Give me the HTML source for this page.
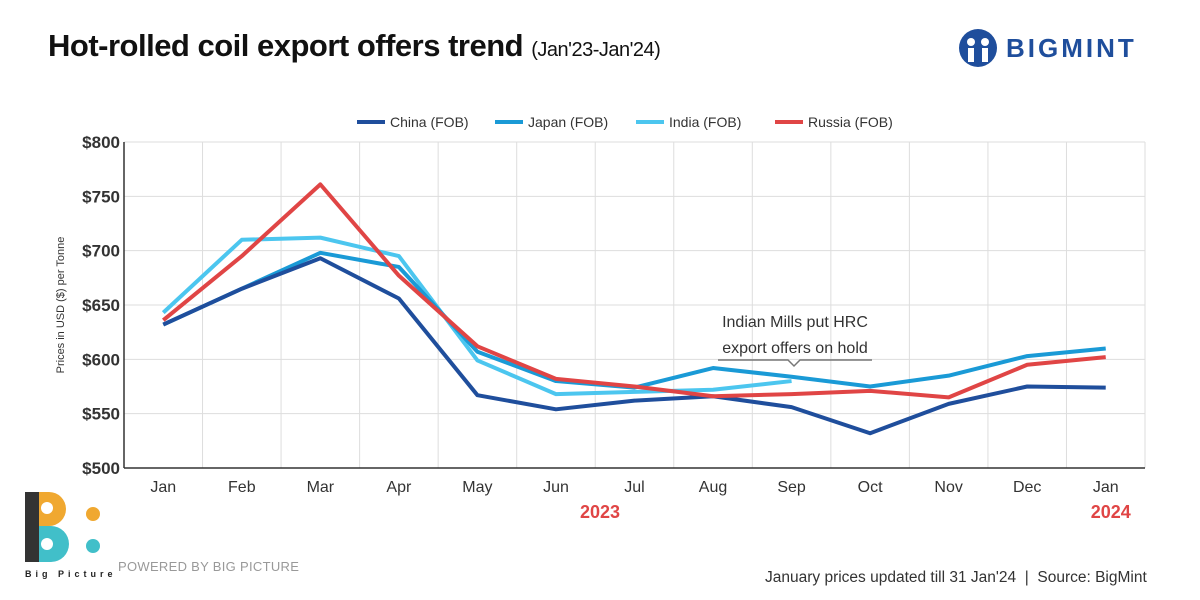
<!DOCTYPE html>
<html><head><meta charset="utf-8">
<style>
body{margin:0;width:1200px;height:600px;background:#fff;font-family:"Liberation Sans",sans-serif;overflow:hidden;position:relative}
.abs{position:absolute}
</style></head>
<body>
<div class="abs" style="left:48px;top:28px;font-size:31px;font-weight:bold;color:#111;letter-spacing:-0.5px">Hot-rolled coil export offers trend <span style="font-size:20px;font-weight:normal">(Jan'23-Jan'24)</span></div>
<div class="abs" style="left:958px;top:28px;display:flex;align-items:center">
<svg width="40" height="40" viewBox="0 0 40 40"><circle cx="20" cy="20" r="19" fill="#1f4e9c"/><circle cx="13" cy="14" r="4" fill="#fff"/><circle cx="27" cy="14" r="4" fill="#fff"/><rect x="10" y="20" width="6" height="14" fill="#fff"/><rect x="24" y="20" width="6" height="14" fill="#fff"/></svg>
<span style="font-size:26px;font-weight:bold;color:#1f4e9c;letter-spacing:3px;margin-left:8px">BIGMINT</span></div>
<svg class="abs" style="left:0;top:0" width="1200" height="600" id="chart"></svg>
<div class="abs" style="left:25px;top:492px">
<svg width="80" height="70"><rect x="0" y="0" width="14" height="70" fill="#333"/><path d="M14 0h10a17 17 0 0 1 0 34h-10z" fill="#f0a830"/><path d="M14 34h12a18 18 0 0 1 0 36h-12z" fill="#41bfc9"/><circle cx="22" cy="16" r="6" fill="#fff"/><circle cx="22" cy="52" r="6" fill="#fff"/><circle cx="68" cy="22" r="7" fill="#f0a830"/><circle cx="68" cy="54" r="7" fill="#41bfc9"/></svg>
<div style="font-size:9px;font-weight:bold;letter-spacing:4px;color:#222;margin-top:2px">Big Picture</div></div>
<div class="abs" style="left:118px;top:559px;font-size:13px;color:#999;letter-spacing:0.3px">POWERED BY BIG PICTURE</div>
<div class="abs" style="left:765px;top:569px;font-size:15.5px;color:#333;white-space:nowrap">January prices updated till 31 Jan'24 &nbsp;|&nbsp; Source: BigMint</div>
<script>
const months=["Jan","Feb","Mar","Apr","May","Jun","Jul","Aug","Sep","Oct","Nov","Dec","Jan"];
const yTicks=[500,550,600,650,700,750,800];
const china=[632,665,693,656,567,554,562,566,556,532,559,575,574];
const japan=[632,665,698,685,607,580,574,592,584,575,585,603,610];
const india=[643,710,712,695,599,568,570,572,580];
const russia=[636,695,761,677,612,582,575,566,568,571,565,595,602];
const seriesNames=["China (FOB)","Japan (FOB)","India (FOB)","Russia (FOB)"];
const NS="http://www.w3.org/2000/svg";
const svg=document.getElementById('chart');
const L=124,R=1145,T=142,B=468,ymin=500,ymax=800;
const bw=(R-L)/months.length;
const x=i=>L+bw*(i+0.5);
const y=v=>B-(v-ymin)/(ymax-ymin)*(B-T);
function mk(t,a){const e=document.createElementNS(NS,t);for(const k in a)e.setAttribute(k,a[k]);svg.appendChild(e);return e;}
yTicks.forEach(v=>{
 const g=mk('line',{x1:L,x2:R,y1:y(v),y2:y(v),stroke:'#ddd','stroke-width':1});
 
 
 const t=mk('text',{x:L-4,y:y(v)+6,'text-anchor':'end','font-size':17,'font-weight':'bold',fill:'#333','font-family':'Liberation Sans'});
 t.textContent='$'+v;
 
 
});
for(let i=0;i<=months.length;i++){
 const g=mk('line',{x1:L+bw*i,x2:L+bw*i,y1:T,y2:B,stroke:'#ddd','stroke-width':1});
 
 
}
months.forEach((m,i)=>{
 const t=mk('text',{x:x(i),y:B+24,'text-anchor':'middle','font-size':16,fill:'#333','font-family':'Liberation Sans'});
 t.textContent=m;
 
 
});
const ax=mk('line',{x1:L,x2:R,y1:B,y2:B,stroke:'#333','stroke-width':1.5});


const ay=mk('line',{x1:L,x2:L,y1:T,y2:B,stroke:'#333','stroke-width':1.5});


[[5,"2023",44],[12,"2024",5]].forEach(([i,s,d])=>{
 const t=mk('text',{x:x(i)+d,y:518,'text-anchor':'middle','font-size':18,'font-weight':'bold',fill:'#e04545','font-family':'Liberation Sans'});
 t.textContent=s;
 
 
});
const yt=mk('text',{transform:'translate(64,305) rotate(-90)','text-anchor':'middle','font-size':11,fill:'#333','font-family':'Liberation Sans'});
yt.textContent='Prices in USD ($) per Tonne';


const colors=['#1f4e9c','#1a9ad6','#4cc6ef','#e04545'];
const data=[china,japan,india,russia];
const order=[2,1,0,3];
order.forEach(k=>{
 const p=mk('polyline',{points:data[k].map((v,i)=>x(i)+','+y(v)).join(' '),fill:'none',stroke:colors[k],'stroke-width':4,'stroke-linejoin':'round'});
 
 
});
const lx=[357,495,636,775];
seriesNames.forEach((n,k)=>{
 const l=mk('line',{x1:lx[k],x2:lx[k]+28,y1:122,y2:122,stroke:colors[k],'stroke-width':4});
 
 
 const t=mk('text',{x:lx[k]+33,y:127,'font-size':14,fill:'#333','font-family':'Liberation Sans'});
 t.textContent=n;
 
 
});
const an=mk('text',{x:795,y:327,'text-anchor':'middle','font-size':16,fill:'#333','font-family':'Liberation Sans'});
an.textContent='Indian Mills put HRC';


const an2=mk('text',{x:795,y:353,'text-anchor':'middle','font-size':16,fill:'#333','font-family':'Liberation Sans'});
an2.textContent='export offers on hold';


const ap=mk('path',{d:'M718 360H788L794 366L800 360H872',fill:'none',stroke:'#777','stroke-width':1.5});


</script>
</body></html>
